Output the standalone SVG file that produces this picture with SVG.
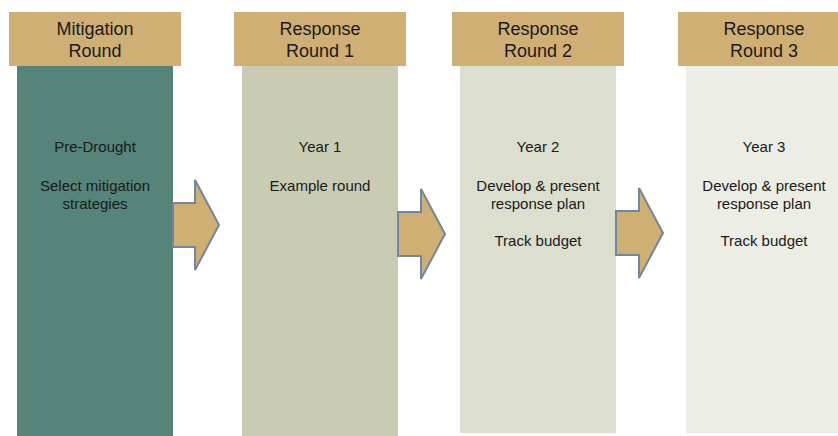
<svg xmlns="http://www.w3.org/2000/svg" width="838" height="436" viewBox="0 0 838 436">
<style>
.hdr{fill:#CFAF73}
.ht{font-family:"Liberation Sans",Arial,sans-serif;font-size:18px;fill:#1a1a1a;text-anchor:middle}
.bt{font-family:"Liberation Sans",Arial,sans-serif;font-size:15px;fill:#1a1a1a;text-anchor:middle}
.arr{fill:#CFAF73;stroke:#6F87A0;stroke-width:2;stroke-linejoin:miter}
</style>
<rect width="838" height="436" fill="#FFFFFF"/>
<g id="col-mitigation">
<rect x="17" y="66" width="156" height="370" fill="#56837A"/>
<rect class="hdr" x="9" y="12" width="172" height="54"/>
<text class="ht" x="95" y="35">Mitigation</text>
<text class="ht" x="95" y="57">Round</text>
<text class="bt" x="95" y="152">Pre-Drought</text>
<text class="bt" x="95" y="191">Select mitigation</text>
<text class="bt" x="95" y="209">strategies</text>
</g>
<g id="col-response1">
<rect x="242" y="66" width="156" height="370" fill="#C9CCB3"/>
<rect class="hdr" x="234" y="12" width="172" height="54"/>
<text class="ht" x="320" y="35">Response</text>
<text class="ht" x="320" y="57">Round 1</text>
<text class="bt" x="320" y="152">Year 1</text>
<text class="bt" x="320" y="191">Example round</text>
</g>
<g id="col-response2">
<rect x="460" y="66" width="156" height="367" fill="#DCDFCE"/>
<rect class="hdr" x="452" y="12" width="172" height="54"/>
<text class="ht" x="538" y="35">Response</text>
<text class="ht" x="538" y="57">Round 2</text>
<text class="bt" x="538" y="152">Year 2</text>
<text class="bt" x="538" y="191">Develop &amp; present</text>
<text class="bt" x="538" y="209">response plan</text>
<text class="bt" x="538" y="246">Track budget</text>
</g>
<g id="col-response3">
<rect x="686" y="66" width="156" height="367" fill="#ECEDE5"/>
<rect class="hdr" x="678" y="12" width="172" height="54"/>
<text class="ht" x="764" y="35">Response</text>
<text class="ht" x="764" y="57">Round 3</text>
<text class="bt" x="764" y="152">Year 3</text>
<text class="bt" x="764" y="191">Develop &amp; present</text>
<text class="bt" x="764" y="209">response plan</text>
<text class="bt" x="764" y="246">Track budget</text>
</g>
<g id="connectors">
<polygon class="arr" points="173,203 195,203 195,180 219,225 195,270 195,247 173,247"/>
<polygon class="arr" points="398,212 421,212 421,189 445,234 421,279 421,256 398,256"/>
<polygon class="arr" points="616,211 639,211 639,188 663,233 639,278 639,255 616,255"/>
</g>
</svg>
